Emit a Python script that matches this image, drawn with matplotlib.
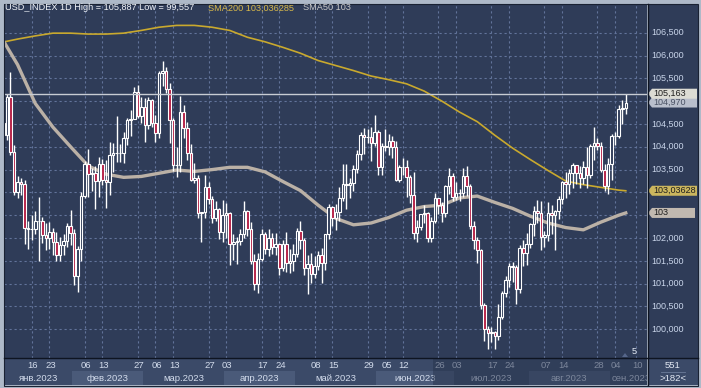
import matplotlib
matplotlib.use("Agg")
import matplotlib.pyplot as plt
import numpy as np
from matplotlib.patches import Rectangle, Polygon
from matplotlib.lines import Line2D

plt.rcParams["font.family"] = ["Liberation Sans", "DejaVu Sans"]

# daily bars, 3 Jan 2023 .. 7 Sep 2023 (bar index 0 = 3 Jan)
opens = [103.52, 104.52, 104.25, 105.09, 103.88, 103.01, 103.23, 103.19, 102.21, 102.20,
         102.20, 102.38, 102.37, 102.06, 101.99, 102.14, 101.92, 101.63, 101.85, 101.93,
         102.27, 102.10, 101.17, 101.75, 102.92, 103.62, 103.41, 103.42, 103.24, 103.63,
         103.27, 103.23, 103.81, 103.86, 103.87, 103.86, 104.19, 104.59, 104.60, 105.21,
         104.67, 104.87, 104.47, 105.02, 104.52, 104.31, 105.62, 105.66, 105.27, 104.58,
         103.60, 103.60, 104.77, 104.42, 103.86, 103.28, 103.32, 102.54, 102.56, 103.12,
         102.86, 102.43, 102.64, 102.14, 102.51, 102.55, 101.86, 101.92, 101.94, 102.08,
         102.59, 102.19, 101.50, 101.00, 101.55, 102.08, 101.77, 101.99, 101.80, 101.87,
         101.34, 101.86, 101.46, 101.50, 101.66, 102.15, 101.96, 101.35, 101.44, 101.22,
         101.38, 101.62, 101.45, 102.08, 102.69, 102.43, 102.58, 102.87, 103.18, 103.16,
         103.20, 103.52, 103.85, 104.26, 104.21, 104.21, 104.09, 104.33, 103.55, 104.01,
         104.00, 104.13, 103.99, 103.27, 103.55, 103.55, 103.34, 102.95, 102.11, 102.24,
         102.52, 102.55, 102.01, 102.38, 102.88, 102.72, 102.55, 103.14, 103.35, 102.91,
         102.98, 102.99, 103.37, 103.15, 102.27, 101.95, 101.74, 100.53, 100.00, 99.91,
         99.94, 99.86, 100.27, 100.79, 101.07, 101.38, 101.36, 100.89, 101.79, 101.68,
         101.86, 102.30, 102.59, 102.55, 102.03, 102.07, 102.54, 102.50, 102.60, 102.85,
         103.22, 103.18, 103.43, 103.60, 103.43, 103.32, 103.56, 103.39, 104.02, 104.08,
         104.02, 103.50, 103.13, 103.62, 104.24, 104.23, 104.82, 104.84]
highs = [104.86, 104.66, 105.15, 105.63, 104.03, 103.36, 103.31, 103.27, 102.38, 102.50,
         102.60, 102.90, 102.47, 102.32, 102.35, 102.21, 102.13, 102.03, 102.08, 102.33,
         102.61, 102.19, 101.83, 103.01, 103.69, 103.96, 103.54, 103.57, 103.77, 103.73,
         103.71, 104.11, 104.08, 104.67, 104.05, 104.32, 104.64, 104.81, 105.32, 105.36,
         105.08, 105.06, 105.08, 105.04, 104.70, 105.67, 105.88, 105.74, 105.39, 104.63,
         104.00, 105.11, 104.92, 104.54, 104.07, 103.64, 103.39, 102.57, 103.38, 103.22,
         102.93, 102.82, 102.65, 102.83, 102.76, 102.56, 102.08, 102.02, 102.19, 102.81,
         102.61, 102.35, 101.65, 101.68, 102.20, 102.13, 102.19, 102.12, 102.12, 101.90,
         101.95, 102.14, 101.76, 101.87, 102.22, 102.38, 101.99, 101.62, 101.68, 101.61,
         101.72, 101.79, 102.09, 102.75, 102.71, 102.74, 103.11, 103.63, 103.62, 103.31,
         103.59, 103.93, 104.32, 104.42, 104.38, 104.43, 104.70, 104.37, 104.08, 104.40,
         104.29, 104.24, 104.12, 103.61, 103.76, 103.71, 103.38, 103.44, 102.40, 102.53,
         102.72, 102.57, 102.46, 102.99, 102.88, 102.79, 103.16, 103.54, 103.43, 103.23,
         103.08, 103.54, 103.57, 103.19, 102.37, 102.03, 101.77, 100.57, 100.08, 100.06,
         99.97, 100.56, 100.85, 101.17, 101.46, 101.48, 101.40, 101.84, 101.96, 102.12,
         102.33, 102.71, 102.84, 102.81, 102.15, 102.80, 102.72, 102.62, 102.93, 103.24,
         103.45, 103.52, 103.65, 103.60, 103.57, 103.69, 103.99, 104.05, 104.44, 104.19,
         104.11, 103.62, 103.75, 104.27, 104.33, 104.91, 105.03, 105.16]
lows = [103.43, 103.90, 104.15, 103.81, 102.94, 102.88, 102.94, 101.86, 101.77, 101.95,
        102.08, 101.50, 101.89, 101.74, 101.77, 101.62, 101.49, 101.50, 101.62, 101.80,
        101.85, 100.96, 100.82, 101.50, 102.88, 102.89, 103.03, 102.64, 102.89, 103.16,
        102.66, 102.95, 103.45, 103.66, 103.66, 103.64, 104.04, 104.23, 104.60, 104.63,
        104.53, 104.10, 104.40, 104.43, 104.11, 104.19, 105.34, 105.17, 104.09, 103.46,
        103.33, 103.45, 104.19, 103.70, 103.24, 103.21, 102.44, 101.92, 102.44, 102.75,
        102.34, 102.37, 101.98, 101.91, 102.01, 101.41, 101.51, 101.43, 101.85, 101.99,
        102.05, 101.44, 100.86, 100.79, 101.50, 101.65, 101.61, 101.64, 101.62, 101.18,
        101.27, 101.26, 101.23, 101.28, 101.58, 101.76, 101.19, 100.78, 101.01, 101.12,
        101.30, 101.01, 101.29, 101.97, 102.27, 102.17, 102.38, 102.82, 102.64, 102.87,
        103.04, 103.43, 103.72, 103.85, 104.08, 103.68, 104.02, 103.39, 103.39, 103.91,
        103.81, 103.76, 103.25, 103.22, 103.38, 102.91, 102.76, 101.98, 101.92, 102.17,
        102.33, 101.92, 101.91, 102.34, 102.53, 102.36, 102.47, 102.96, 102.81, 102.83,
        102.82, 102.90, 102.93, 102.20, 101.75, 101.45, 100.45, 99.75, 99.57, 99.73,
        99.57, 99.77, 100.23, 100.71, 100.93, 101.04, 100.55, 100.80, 101.38, 101.42,
        101.79, 102.05, 102.32, 101.74, 101.80, 101.94, 102.09, 101.74, 102.42, 102.75,
        102.87, 102.97, 103.10, 103.18, 103.10, 103.19, 103.09, 103.32, 103.70, 103.92,
        103.45, 103.04, 102.96, 103.27, 104.03, 104.19, 104.50, 104.71]
closes = [104.52, 104.25, 105.09, 103.88, 103.01, 103.23, 103.19, 102.21, 102.20, 102.20,
          102.38, 102.37, 102.06, 101.99, 102.14, 101.92, 101.63, 101.85, 101.93, 102.27,
          102.10, 101.17, 101.75, 102.92, 103.62, 103.41, 103.42, 103.24, 103.63, 103.27,
          103.23, 103.81, 103.86, 103.87, 103.86, 104.19, 104.59, 104.60, 105.21, 104.67,
          104.87, 104.47, 105.02, 104.52, 104.31, 105.62, 105.66, 105.27, 104.58, 103.60,
          103.60, 104.77, 104.42, 103.86, 103.28, 103.32, 102.54, 102.56, 103.12, 102.86,
          102.43, 102.64, 102.14, 102.51, 102.55, 101.86, 101.92, 101.94, 102.08, 102.59,
          102.19, 101.50, 101.00, 101.55, 102.08, 101.77, 101.99, 101.80, 101.87, 101.34,
          101.86, 101.46, 101.50, 101.66, 102.15, 101.96, 101.35, 101.44, 101.22, 101.38,
          101.62, 101.45, 102.08, 102.69, 102.43, 102.58, 102.87, 103.18, 103.16, 103.20,
          103.52, 103.85, 104.26, 104.21, 104.21, 104.09, 104.33, 103.55, 104.01, 104.00,
          104.13, 103.99, 103.27, 103.55, 103.55, 103.34, 102.95, 102.11, 102.24, 102.52,
          102.55, 102.01, 102.38, 102.88, 102.72, 102.55, 103.14, 103.35, 102.91, 102.98,
          102.99, 103.37, 103.15, 102.27, 101.95, 101.74, 100.53, 100.00, 99.91, 99.94,
          99.86, 100.27, 100.79, 101.07, 101.38, 101.36, 100.89, 101.79, 101.68, 101.86,
          102.30, 102.59, 102.55, 102.03, 102.07, 102.54, 102.50, 102.60, 102.85, 103.22,
          103.18, 103.43, 103.60, 103.43, 103.32, 103.56, 103.39, 104.02, 104.08, 104.02,
          103.50, 103.13, 103.62, 104.24, 104.23, 104.82, 104.84, 104.97]

# moving averages (every 5th bar)
sma_idx = [0, 5, 10, 15, 20, 25, 30, 35, 40, 45, 50, 55, 60, 65, 70, 75, 80, 85, 90,
           95, 100, 105, 110, 115, 120, 125, 130, 135, 140, 145, 150, 155, 160, 165, 170, 175, 177]
sma200 = [106.28, 106.36, 106.43, 106.49, 106.49, 106.47, 106.47, 106.49, 106.55, 106.62,
          106.66, 106.66, 106.62, 106.55, 106.40, 106.30, 106.18, 106.05, 105.89, 105.78,
          105.67, 105.55, 105.47, 105.38, 105.22, 105.00, 104.76, 104.55, 104.25, 103.97,
          103.72, 103.48, 103.25, 103.17, 103.11, 103.05, 103.036]
sma50 = [106.45, 105.80, 104.95, 104.43, 104.00, 103.58, 103.40, 103.33, 103.35, 103.42,
         103.49, 103.46, 103.50, 103.55, 103.55, 103.45, 103.24, 103.04, 102.72, 102.43,
         102.29, 102.33, 102.45, 102.61, 102.69, 102.72, 102.88, 102.92, 102.78, 102.65,
         102.48, 102.33, 102.23, 102.18, 102.35, 102.50, 102.55]

price_ticks = [100.0, 100.5, 101.0, 101.5, 102.0, 102.5, 103.0, 103.5, 104.0, 104.5,
               105.0, 105.5, 106.0, 106.5]
day_pos = [9, 14, 24, 29, 39, 44, 49, 59, 64, 74, 79, 89, 94, 104, 109, 114, 124, 129,
           139, 144, 154, 159, 169, 174, 180]
day_lab = ["16", "23", "06", "13", "27", "06", "13", "27", "03", "17", "24", "08", "15",
           "29", "05", "12", "26", "03", "17", "24", "07", "14", "28", "04", "10"]
month_lab = ["янв.2023", "фев.2023", "мар.2023", "апр.2023", "май.2023", "июн.2023",
             "июл.2023", "авг.2023", "сен.2023"]
month_first = [0, 21, 41, 64, 84, 107, 129, 150, 173]
month_last = [20, 40, 63, 83, 106, 128, 149, 172, 184]

last_high = 105.163
bid = 104.970

BG = "#2f3c58"
DATEBG = "#3b4a68"
GRID = "#62739a"
BEAR = "#b41f45"
W, H = 701, 388
PX_PER_UNIT = 45.63

fig = plt.figure(figsize=(W / 100, H / 100), dpi=100, facecolor="#aeb9c8")


def px_axes(x0, y0, x1, y1, bg):
    a = fig.add_axes([x0 / W, 1 - y1 / H, (x1 - x0) / W, (y1 - y0) / H])
    a.set_facecolor(bg)
    for s in a.spines.values():
        s.set_visible(False)
    a.set_xticks([])
    a.set_yticks([])
    return a


xmin, xmax = 1.165, 183.0
ymin, ymax = 99.382, 107.129

ax = px_axes(4, 4, 647, 357.5, BG)
ax.set_xlim(xmin, xmax)
ax.set_ylim(ymin, ymax)

for v in price_ticks:
    ax.axhline(v, color=GRID, lw=0.8, ls=(0, (2, 2.5)), zorder=1)
for p in day_pos:
    ax.axvline(p, color=GRID, lw=0.8, ls=(0, (2, 2.5)), zorder=1)

ax.plot(sma_idx, sma200, color="#c9a92e", lw=1.2, zorder=2)
ax.plot(sma_idx, sma50, color="#bbb1a6", lw=2.4, zorder=2)

o = np.array(opens)
c = np.array(closes)
x = np.arange(len(c))
ax.vlines(x, lows, highs, color="white", lw=1.0, zorder=3)
fills = [BG if cc >= oo else BEAR for oo, cc in zip(o, c)]
ax.bar(x, np.abs(c - o), bottom=np.minimum(o, c), width=0.72, color=fills,
       edgecolor="white", linewidth=0.8, zorder=4)

ax.axhline(last_high, color="#c8ccd3", lw=1.0, zorder=5)

# title line
fig.text(5 / W, 1 - 8 / H, "USD_INDEX 1D High = 105,887 Low = 99,557", fontsize=6.6,
         color="#f2f5fa", va="center")
fig.text(208 / W, 1 - 8 / H, "SMA200 103,036285", fontsize=6.6, color="#d9b94a", va="center")
fig.text(303 / W, 1 - 8 / H, "SMA50 103", fontsize=6.6, color="#c9c9c9", va="center")

# price scale
axp = px_axes(648, 4, 698, 357.5, BG)
axp.set_xlim(0, 50)
axp.set_ylim(ymin, ymax)

tags = [(bid, "104,970", "#b9bfcc", "#4a5264"),
        (last_high, "105,163", "#dcdcd4", "#1e1e1e"),
        (sma200[-1], "103,03628", "#cbb65e", "#1e1e1e"),
        (sma50[-1], "103", "#c1b9b0", "#1e1e1e")]
tag_levels = [t[0] for t in tags]

for v in price_ticks:
    # labels hidden behind a price tag are not drawn
    if min(abs(v - t) for t in tag_levels) * PX_PER_UNIT < 9:
        continue
    axp.text(3, v, f"{v:.3f}".replace(".", ","), fontsize=6.5, color="#c9d5ea",
             va="center", ha="left")

th = 10 / PX_PER_UNIT
for v, txt, bg, fg in tags:
    right = 47 if txt == "103" else 49
    pts = [(0, v), (4, v + th / 2), (right, v + th / 2), (right, v - th / 2), (4, v - th / 2)]
    axp.add_patch(Polygon(pts, closed=True, facecolor=bg, edgecolor="none", zorder=5))
    axp.text(5.5, v, txt, fontsize=6.5, color=fg, va="center", ha="left", zorder=6)

# date scale
axd = px_axes(4, 358, 647, 385, DATEBG)
axd.set_xlim(xmin, xmax)
axd.set_ylim(385, 358)
for k, (f, l) in enumerate(zip(month_first, month_last)):
    if k % 2 == 1:
        axd.add_patch(Rectangle((f - 0.5, 371), l - f + 1, 14, facecolor="#4a5a79",
                                edgecolor="none"))
    cx = (max(f - 0.5, xmin) + (l + 0.5)) / 2
    axd.text(cx, 378, month_lab[k], fontsize=6.8, color="#d3dcec", ha="center",
             va="center", clip_on=True)
for p, lab in zip(day_pos, day_lab):
    axd.text(p + 0.3, 365.5, lab, fontsize=6.8, color="#d3dcec", ha="center", va="center")
# dimmed part of the time scale
i_dim = (433 + 0.12) / 3.536
axd.add_patch(Rectangle((i_dim, 358), xmax - i_dim, 27, facecolor="#27334c",
                        edgecolor="none", alpha=0.5, zorder=5))

# corner box
axc = px_axes(648, 358, 698, 385, DATEBG)
axc.set_xlim(0, 50)
axc.set_ylim(385, 358)
axc.text(25, 365.5, "551", fontsize=6.8, color="#e2e8f2", ha="center", va="center")
axc.plot([13, 37], [371.5, 371.5], color="#6c7c9a", lw=0.6)
axc.text(25, 378, ">182<", fontsize=6.8, color="#e2e8f2", ha="center", va="center")

# shift marker
fig.text(634 / W, 1 - 352 / H, "5", fontsize=6.5, color="#e6ecf5", ha="center", va="center")
fig.add_artist(Polygon([(622 / W, 1 - 357 / H), (625 / W, 1 - 353 / H), (628 / W, 1 - 357 / H)],
                       closed=True, facecolor="#56668a", edgecolor="none",
                       transform=fig.transFigure))

# separators
dark = "#0e1421"
fig.add_artist(Line2D([647.5 / W, 647.5 / W], [1 - 4 / H, 1 - 385 / H], color=dark, lw=1,
                      transform=fig.transFigure))
fig.add_artist(Line2D([4 / W, 698 / W], [1 - 357.75 / H, 1 - 357.75 / H], color=dark, lw=1,
                      transform=fig.transFigure))
fig.add_artist(Rectangle((3.5 / W, 1 - 385.5 / H), 694.5 / W, 382 / H, fill=False,
                         edgecolor="#1a2233", lw=0.8, transform=fig.transFigure))

fig.savefig("out.png", dpi=100, facecolor=fig.get_facecolor())
